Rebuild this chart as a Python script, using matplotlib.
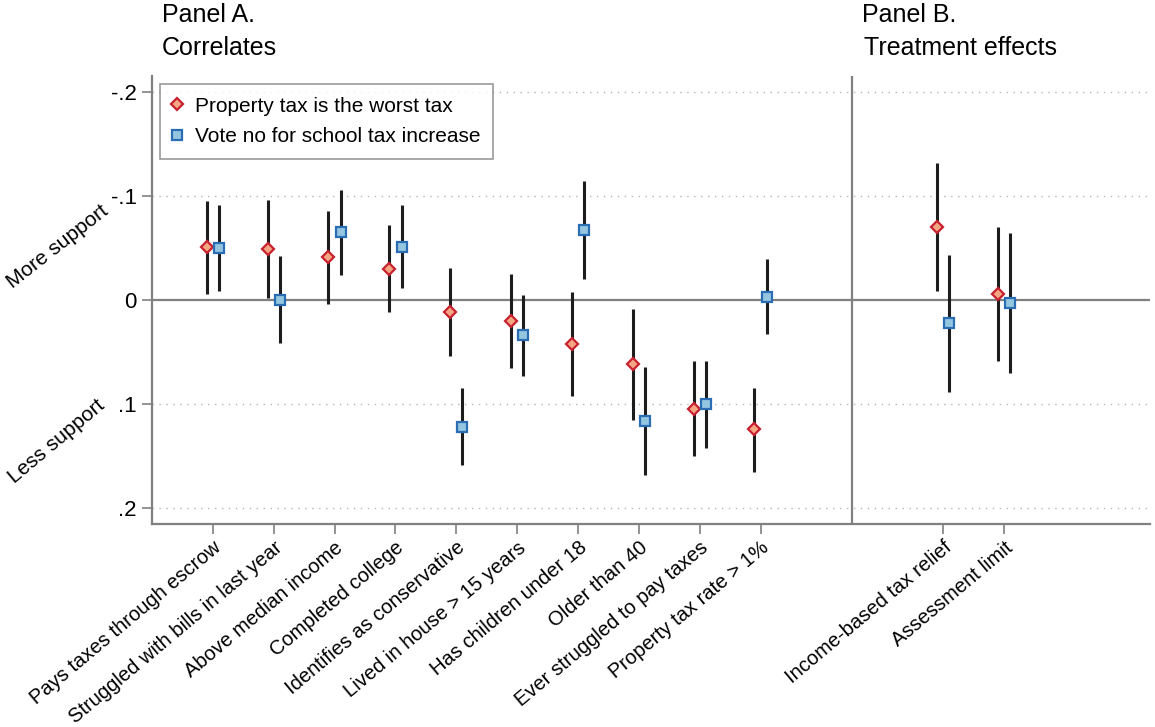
import numpy as np
import matplotlib
matplotlib.use("Agg")
import matplotlib.pyplot as plt

plt.rcParams["font.family"] = ["Liberation Sans", "DejaVu Sans"]

# category labels
labels_a = ["Pays taxes through escrow", "Struggled with bills in last year",
            "Above median income", "Completed college",
            "Identifies as conservative", "Lived in house > 15 years",
            "Has children under 18", "Older than 40",
            "Ever struggled to pay taxes", "Property tax rate > 1%"]
labels_b = ["Income-based tax relief", "Assessment limit"]

# "Property tax is the worst tax": estimate and 95% CI
worst_est = [-0.051, -0.049, -0.041, -0.030, 0.0115, 0.020, 0.042, 0.062, 0.105, 0.124,
             -0.0705, -0.0055]
worst_lo = [-0.095, -0.096, -0.086, -0.072, -0.031, -0.025, -0.008, 0.009, 0.059, 0.085,
            -0.132, -0.070]
worst_hi = [-0.006, -0.002, 0.0035, 0.012, 0.054, 0.065, 0.092, 0.115, 0.150, 0.165,
            -0.009, 0.059]

# "Vote no for school tax increase": estimate and 95% CI
vote_est = [-0.050, 0.000, -0.065, -0.051, 0.122, 0.034, -0.067, 0.116, 0.100, -0.003,
            0.022, 0.003]
vote_lo = [-0.091, -0.042, -0.106, -0.091, 0.085, -0.0045, -0.114, 0.064, 0.059, -0.039,
           -0.043, -0.064]
vote_hi = [-0.009, 0.041, -0.024, -0.0115, 0.159, 0.073, -0.020, 0.168, 0.142, 0.033,
           0.088, 0.070]

ytick_vals = [-0.2, -0.1, 0, 0.1, 0.2]
ytick_labels = ["-.2", "-.1", "0", ".1", ".2"]

GRAY = "#808080"
RED_EDGE, RED_FACE = "#c8202f", "#f4a582"
BLUE_EDGE, BLUE_FACE = "#2a6db5", "#94c6e0"

pos = np.concatenate([np.arange(1, len(labels_a) + 1),
                      len(labels_a) + 2 + np.arange(1, len(labels_b) + 1)])
off = 0.1

fig = plt.figure(figsize=(11.55, 7.27), dpi=100)
ax = fig.add_axes([152 / 1155, 1 - 524 / 727, 998 / 1155, 448 / 727])

# dotted grid + zero line + panel divider
for v in ytick_vals:
    if v != 0:
        ax.axhline(v, color="#b5b5b5", lw=1.0, ls=(0, (1, 4)), zorder=0)
ax.axhline(0, color=GRAY, lw=1.6, zorder=1)
ax.axvline(len(labels_a) + 1.5, color=GRAY, lw=1.6, zorder=1)

ax.vlines(pos - off, worst_lo, worst_hi, color="#1c1c1c", lw=2.2, zorder=2)
ax.vlines(pos + off, vote_lo, vote_hi, color="#1c1c1c", lw=2.2, zorder=2)
ax.plot(pos - off, worst_est, ls="none", marker="D", ms=6.5, mfc=RED_FACE,
        mec=RED_EDGE, mew=1.6, zorder=3, label="Property tax is the worst tax")
ax.plot(pos + off, vote_est, ls="none", marker="s", ms=7, mfc=BLUE_FACE,
        mec=BLUE_EDGE, mew=1.6, zorder=3, label="Vote no for school tax increase")

ax.set_xlim(0, 16.4)
ax.set_ylim(0.2154, -0.2154)
ax.set_yticks(ytick_vals)
ax.set_yticklabels(ytick_labels, fontsize=16)
ax.set_xticks(pos)
ax.set_xticklabels(labels_a + labels_b, fontsize=14.5, rotation=40, ha="right",
                   rotation_mode="anchor")

for s in ["top", "right"]:
    ax.spines[s].set_visible(False)
for s in ["left", "bottom"]:
    ax.spines[s].set_color(GRAY)
    ax.spines[s].set_linewidth(1.6)
ax.tick_params(axis="both", colors=GRAY, labelcolor="black", length=7, width=1.2)
ax.tick_params(axis="y", pad=4)
ax.tick_params(axis="x", pad=3)

leg = ax.legend(loc="upper left", bbox_to_anchor=(0.008, 0.982), fontsize=15,
                frameon=True, fancybox=False, edgecolor=GRAY, borderpad=0.6,
                borderaxespad=0, handletextpad=0.7, handlelength=0.4,
                labelspacing=0.55)
leg.get_frame().set_linewidth(1.2)

# panel titles
fig.text(162 / 1155, 1 - 22 / 727, "Panel A.", fontsize=18, ha="left", va="baseline")
fig.text(162 / 1155, 1 - 55 / 727, "Correlates", fontsize=18, ha="left", va="baseline")
fig.text(862 / 1155, 1 - 22 / 727, "Panel B.", fontsize=18, ha="left", va="baseline")
fig.text(864 / 1155, 1 - 55 / 727, "Treatment effects", fontsize=18, ha="left",
         va="baseline")

# side labels
fig.text(58 / 1155, 1 - 247 / 727, "More support", fontsize=15, rotation=38,
         ha="center", va="center")
fig.text(57 / 1155, 1 - 441 / 727, "Less support", fontsize=15, rotation=40,
         ha="center", va="center")

fig.savefig("out.png", dpi=100)
